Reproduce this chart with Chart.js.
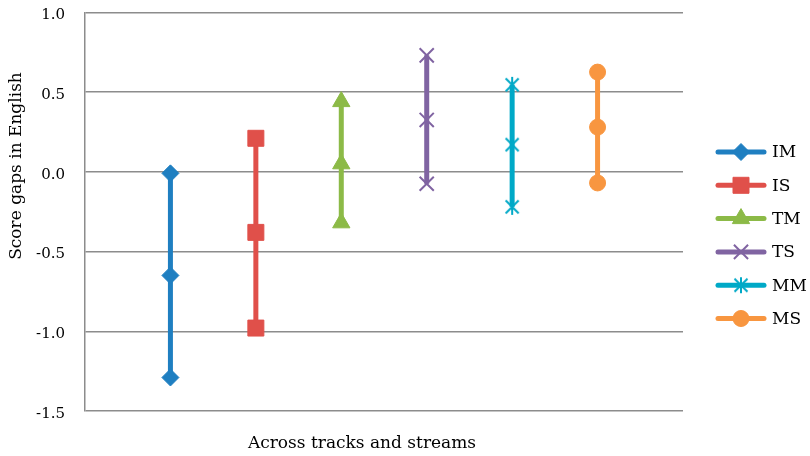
<!DOCTYPE html>
<html>
<head>
<meta charset="utf-8">
<script src="https://cdn.jsdelivr.net/npm/chart.js@4/dist/chart.umd.min.js"></script>
<style>
  html, body { margin: 0; padding: 0; background: #ffffff; }
  #wrap { width: 810px; height: 456px; position: relative; }
</style>
</head>
<body>
<div id="wrap"><canvas id="chart" width="810" height="456"></canvas></div>
<script>
// Groups shown along the horizontal axis
const groups = ['IM', 'IS', 'TM', 'TS', 'MM', 'MS'];
// Lower, middle and upper score gap for each group
const lowGaps  = [-1.29, -0.98, -0.32, -0.075, -0.22, -0.07];
const midGaps  = [-0.65, -0.38, 0.05, 0.325, 0.17, 0.28];
const highGaps = [-0.01, 0.21, 0.44, 0.73, 0.545, 0.625];
// Y axis tick values
const yTicks = [-1.5, -1.0, -0.5, 0.0, 0.5, 1.0];

const colors = ['#1f7fc1', '#e0504a', '#8cba47', '#8064a2', '#00a9c7', '#f89640'];
const serif = "'DejaVu Serif', 'Liberation Serif', serif";

// Asterisk-style marker (X with a vertical stroke)
function makeAsterisk(color) {
  const c = document.createElement('canvas');
  c.width = 18; c.height = 18;
  const g = c.getContext('2d');
  g.strokeStyle = color;
  g.lineWidth = 2;
  g.beginPath();
  g.moveTo(2.5, 2.5); g.lineTo(15.5, 15.5);
  g.moveTo(15.5, 2.5); g.lineTo(2.5, 15.5);
  g.moveTo(9, 1); g.lineTo(9, 17);
  g.stroke();
  return c;
}

const markers = [
  { style: 'rectRot', radius: 8.5, borderWidth: 1 },
  { style: 'rect', radius: 11.3, borderWidth: 1 },
  { style: 'triangle', radius: 10, borderWidth: 1 },
  { style: 'crossRot', radius: 10, borderWidth: 2 },
  { style: makeAsterisk(colors[4]), radius: 9, borderWidth: 2 },
  { style: 'circle', radius: 8, borderWidth: 1 }
];

const datasets = groups.map((name, i) => ({
  label: name,
  data: [
    { x: i + 1, y: lowGaps[i] },
    { x: i + 1, y: midGaps[i] },
    { x: i + 1, y: highGaps[i] }
  ],
  showLine: true,
  borderColor: colors[i],
  backgroundColor: colors[i],
  borderWidth: 5,
  pointStyle: markers[i].style,
  pointRadius: markers[i].radius,
  pointHoverRadius: markers[i].radius,
  pointBorderWidth: markers[i].borderWidth,
  pointBorderColor: colors[i],
  pointBackgroundColor: colors[i]
}));

// Legend on the right with line + marker samples, plus both axis titles
const decorations = {
  id: 'decorations',
  afterDraw(chart) {
    const ctx = chart.ctx;
    ctx.save();
    chart.data.datasets.forEach((ds, i) => {
      const y = 152 + i * 33.3;
      ctx.strokeStyle = ds.borderColor;
      ctx.fillStyle = ds.borderColor;
      ctx.lineWidth = 5;
      ctx.lineCap = 'round';
      ctx.beginPath();
      ctx.moveTo(718, y);
      ctx.lineTo(764, y);
      ctx.stroke();
      ctx.lineCap = 'butt';
      ctx.lineWidth = ds.pointBorderWidth;
      Chart.helpers.drawPoint(ctx, {
        pointStyle: ds.pointStyle,
        radius: ds.pointRadius,
        rotation: 0,
        borderWidth: ds.pointBorderWidth
      }, 741, y);
      ctx.fillStyle = '#000000';
      ctx.font = '17px ' + serif;
      ctx.textAlign = 'left';
      ctx.textBaseline = 'middle';
      ctx.fillText(ds.label, 772, y + 1);
    });

    ctx.fillStyle = '#000000';
    ctx.font = '17px ' + serif;
    ctx.textAlign = 'center';
    ctx.textBaseline = 'middle';
    ctx.fillText('Across tracks and streams', 362, 444);

    ctx.translate(17, 166);
    ctx.rotate(-Math.PI / 2);
    ctx.fillText('Score gaps in English', 0, 0);
    ctx.restore();
  }
};

new Chart(document.getElementById('chart'), {
  type: 'scatter',
  data: { datasets },
  plugins: [decorations],
  options: {
    responsive: false,
    animation: false,
    events: [],
    layout: { padding: { top: 12, bottom: 45, right: 127, left: 0 } },
    plugins: {
      legend: { display: false },
      tooltip: { enabled: false }
    },
    scales: {
      x: {
        type: 'linear',
        min: 0,
        max: groups.length + 1,
        display: true,
        ticks: { display: false },
        grid: { display: false, drawTicks: false },
        border: { display: false }
      },
      y: {
        type: 'linear',
        min: yTicks[0],
        max: yTicks[yTicks.length - 1],
        afterBuildTicks(scale) {
          scale.ticks = yTicks.map(v => ({ value: v }));
        },
        afterFit(scale) {
          scale.width = 85;
          scale.paddingTop = 0;
          scale.paddingBottom = 0;
        },
        ticks: {
          color: '#000000',
          font: { family: serif, size: 15 },
          padding: 20,
          labelOffset: 3,
          callback: v => v.toFixed(1)
        },
        grid: {
          color: '#8c8c8c',
          lineWidth: 1.5,
          drawTicks: false
        },
        border: { display: true, color: '#8c8c8c', width: 1.5 }
      }
    }
  }
});
</script>
</body>
</html>
